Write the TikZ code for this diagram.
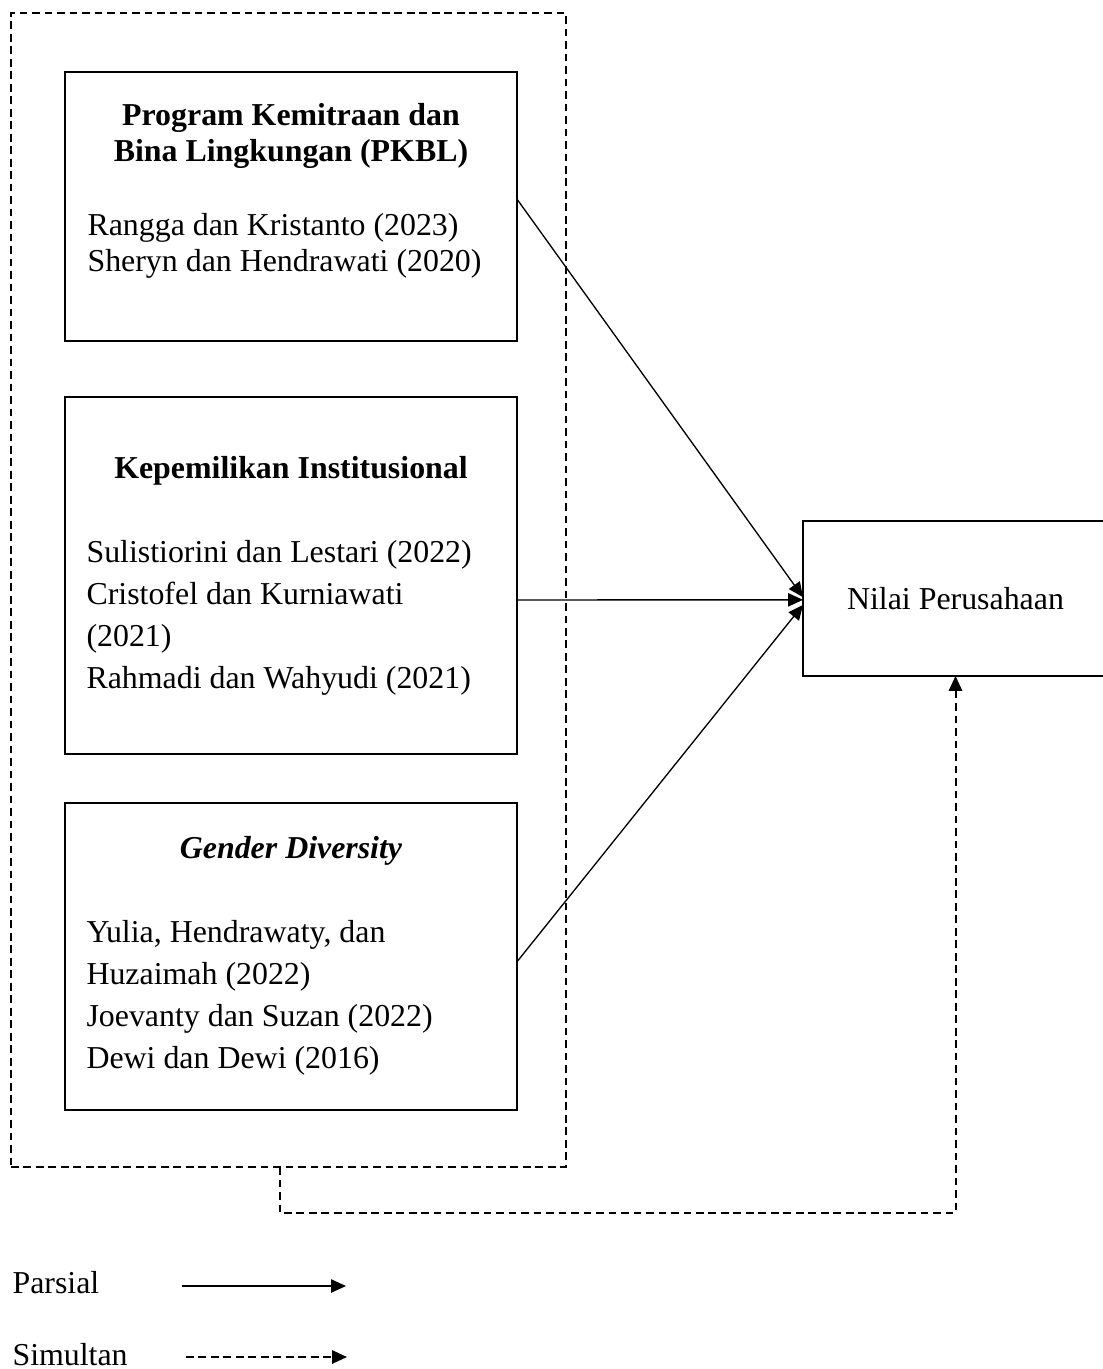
\documentclass[tikz,border=0pt]{standalone}
\usepackage{fontspec}
\setmainfont{Liberation Serif}
\usetikzlibrary{arrows.meta}

\begin{document}
\begin{tikzpicture}[x=0.01323cm, y=-0.01323cm, >={Triangle[length=5.6pt,width=5pt]},
	font=\fontsize{12}{15.7}\selectfont, inner sep=0pt,
	box/.style={draw, line width=1pt, outer sep=0pt},
	grp/.style={draw, line width=0.75pt, dash pattern=on 2.9pt off 1.8pt, outer sep=0pt},
	ttl/.style={font=\bfseries\fontsize{12}{13.8}\selectfont, align=center, anchor=base},
	refs/.style={align=left, anchor=base west},
	parsial/.style={->, line width=0.5pt},
	simultan/.style={->, line width=0.75pt, dash pattern=on 2.9pt off 1.8pt}]
		\useasboundingbox (0,0) rectangle (1103,1369);
		
		% Dashed group round the independent variables
		\node[grp, minimum width=208.9pt, minimum height=434.4pt] (grp) at (288.5,590) {};
		
		% PKBL (base = last line)
		\node[box, minimum width=170.1pt, minimum height=101.3pt] (pkbl) at (291,206.5) {};
		\node[ttl] (pkblT) at (291,162) {Program Kemitraan dan\\Bina Lingkungan (PKBL)};
		\node[refs, font=\fontsize{12}{13.8}\selectfont] (pkblR) at (87,272)
			{Rangga dan Kristanto (2023)\\Sheryn dan Hendrawati (2020)};
		
		% Kepemilikan Institusional
		\node[box, minimum width=170.1pt, minimum height=134.4pt] (kep) at (291,575.5) {};
		\node[ttl] (kepT) at (291,478) {Kepemilikan Institusional};
		\node[refs] (kepR) at (86,688)
			{Sulistiorini dan Lestari (2022)\\Cristofel dan Kurniawati\\(2021)\\Rahmadi dan Wahyudi (2021)};
		
		% Gender Diversity
		\node[box, minimum width=170.1pt, minimum height=115.6pt] (gen) at (291,956.5) {};
		\node[ttl, font=\bfseries\itshape\fontsize{12}{13.8}\selectfont] (genT) at (291,858) {Gender Diversity};
		\node[refs] (genR) at (86,1068)
			{Yulia, Hendrawaty, dan\\Huzaimah (2022)\\Joevanty dan Suzan (2022)\\Dewi dan Dewi (2016)};
		
		% Dependent variable
		\node[box, minimum width=114.8pt, minimum height=58.3pt] (nilai) at (955.5,598.5) {Nilai Perusahaan};
		
		% Partial effects
		\draw[parsial] ([yshift=2.8pt]pkbl.east) -- ([yshift=0.5pt]nilai.west);
		\draw[parsial] ([yshift=-9.2pt]kep.east) -- ([yshift=-0.5pt]nilai.west);
		\draw[parsial] ([yshift=-2pt]gen.east) -- ([yshift=-2.4pt]nilai.west);
		
		% Simultaneous effect
		\draw[simultan] ([xshift=-3.2pt]grp.south) -- ++(0,46) -| (nilai.south);
		
		% Legend
		\node[anchor=base west] (parsialL) at (12,1293) {Parsial};
		\coordinate (p0) at (182,1286);
		\coordinate (p1) at (346,1286);
		\draw[parsial] (p0) -- (p1);
		\node[anchor=base west] (simultanL) at (12,1365) {Simultan};
		\coordinate (s0) at (186,1357);
		\coordinate (s1) at (347,1357);
		\draw[simultan] (s0) -- (s1);
		
	\end{tikzpicture}
\end{document}
